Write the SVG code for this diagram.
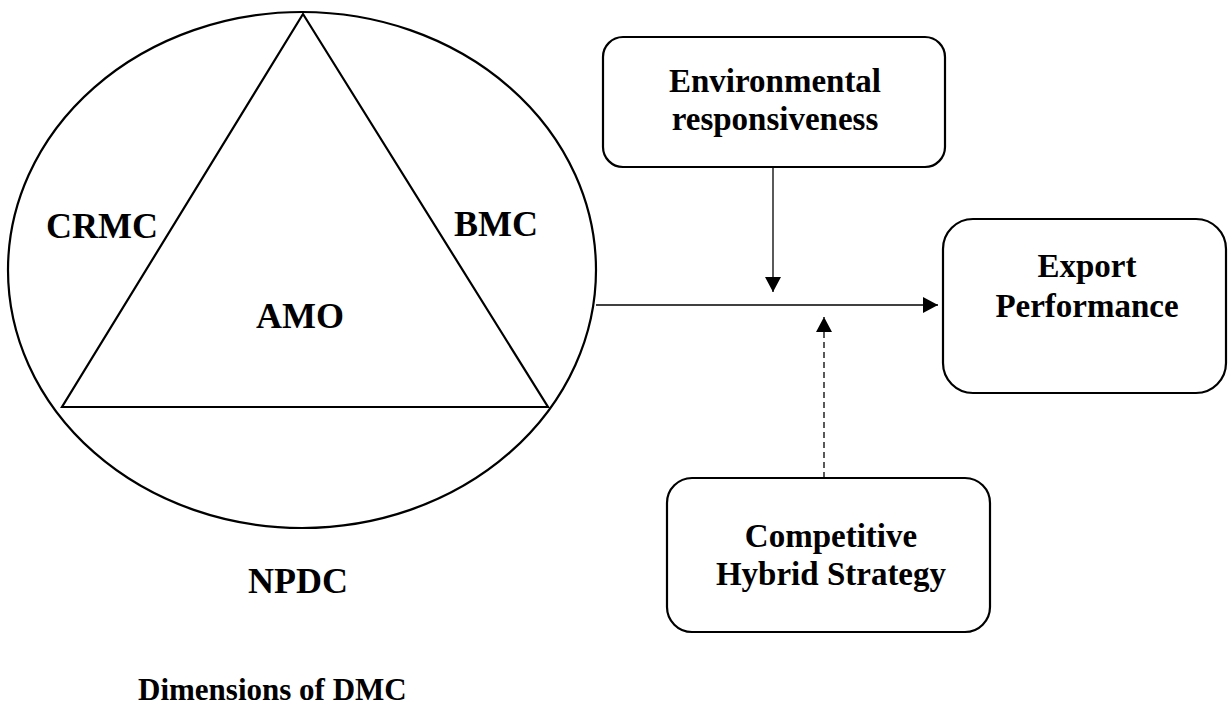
<svg xmlns="http://www.w3.org/2000/svg" width="1228" height="706" viewBox="0 0 1228 706">
<defs>
<style>
.t{font-family:"Liberation Serif","Times New Roman",serif;font-weight:bold;fill:#000;text-anchor:middle}
.big{font-size:36px}
.box{font-size:33px}
.shape{fill:none;stroke:#000;stroke-width:2.2}
.conn{fill:none;stroke:#000;stroke-width:1.3}
.dash{stroke-dasharray:6 4}
</style>
<marker id="ah" markerUnits="userSpaceOnUse" markerWidth="16" markerHeight="16" refX="15" refY="8" orient="auto">
<path d="M0,0 L15,8 L0,16 Z" fill="#000"/>
</marker>
</defs>
<rect width="1228" height="706" fill="#fff"/>
<g id="dmc">
<ellipse class="shape" cx="302" cy="270" rx="294" ry="258"/>
<polygon class="shape" points="303,14 62,407 548,407"/>
<text class="t big" x="102" y="238">CRMC</text>
<text class="t big" x="496" y="236">BMC</text>
<text class="t big" x="300" y="328">AMO</text>
<text class="t big" x="298" y="593">NPDC</text>
<text class="t" x="138" y="700" style="font-size:31px;text-anchor:start">Dimensions of DMC</text>
</g>
<g id="env">
<rect class="shape" x="603" y="37" width="342" height="130" rx="20"/>
<text class="t box" x="775" y="92">Environmental</text>
<text class="t box" x="775" y="130">responsiveness</text>
</g>
<g id="export">
<rect class="shape" x="943" y="219" width="283" height="174" rx="30"/>
<text class="t box" x="1087" y="277">Export</text>
<text class="t box" x="1087" y="317">Performance</text>
</g>
<g id="chs">
<rect class="shape" x="667" y="478" width="323" height="154" rx="25"/>
<text class="t box" x="831" y="547">Competitive</text>
<text class="t box" x="831" y="585">Hybrid Strategy</text>
</g>
<g id="connectors">
<line class="conn" x1="596" y1="305" x2="938" y2="305" marker-end="url(#ah)"/>
<line class="conn" x1="773" y1="167" x2="773" y2="292" marker-end="url(#ah)"/>
<line class="conn dash" x1="824" y1="478" x2="824" y2="317" marker-end="url(#ah)"/>
</g>
</svg>
